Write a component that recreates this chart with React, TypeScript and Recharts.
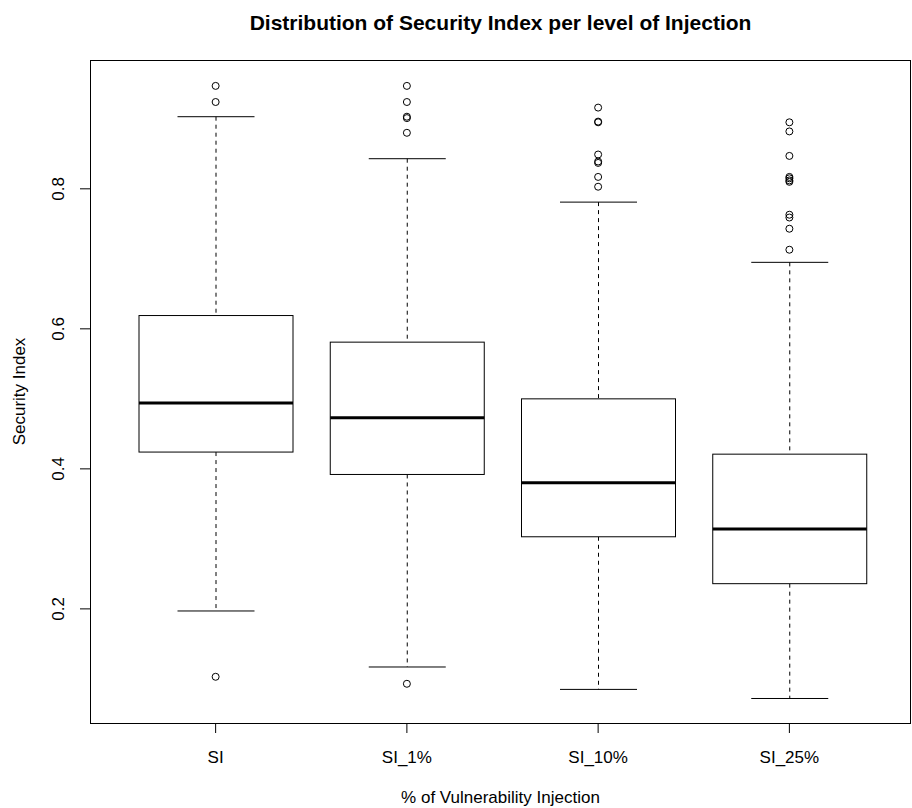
import React from 'react';
import { ComposedChart, Bar, Line, XAxis, YAxis, Label } from 'recharts';

const categories = ['SI', 'SI_1%', 'SI_10%', 'SI_25%'];
const whiskerLow = [0.197, 0.117, 0.085, 0.072];
const q1 = [0.424, 0.392, 0.303, 0.236];
const median = [0.494, 0.473, 0.38, 0.314];
const q3 = [0.619, 0.581, 0.5, 0.421];
const whiskerHigh = [0.903, 0.843, 0.781, 0.695];
const outliers = [
  [0.947, 0.924, 0.103],
  [0.947, 0.924, 0.903, 0.901, 0.88, 0.093],
  [0.916, 0.896, 0.895, 0.849, 0.839, 0.837, 0.817, 0.803],
  [0.895, 0.882, 0.847, 0.817, 0.815, 0.812, 0.81, 0.763, 0.759, 0.743, 0.713],
];
const yTicks = [0.2, 0.4, 0.6, 0.8];
const yDomain = [0.037, 0.984];

const title = 'Distribution of Security Index per level of Injection';
const xTitle = '% of Vulnerability Injection';
const yTitle = 'Security Index';

const maxOut = Math.max(...outliers.map((o) => o.length));

const data = categories.map((name, i) => {
  const row: any = {
    name,
    lo: whiskerLow[i],
    q1: q1[i],
    med: median[i],
    q3: q3[i],
    hi: whiskerHigh[i],
  };
  for (let k = 0; k < maxOut; k++) {
    row[`o${k}`] = outliers[i][k] !== undefined ? outliers[i][k] : null;
  }
  return row;
});

const FONT = '"Liberation Sans", Arial, sans-serif';

const BoxShape = (props: any) => {
  const { x, y, width, height, payload } = props;
  if (x == null || y == null || !payload) return null;
  const { lo, hi } = payload;
  const py = (v: number) => y + ((hi - v) / (hi - lo)) * height;
  const cx = x + width / 2;
  const sHalf = width / 4;
  const yHi = py(hi);
  const yLo = py(lo);
  const yQ3 = py(payload.q3);
  const yQ1 = py(payload.q1);
  const yMed = py(payload.med);
  return (
    <g>
      <line x1={cx} x2={cx} y1={yHi} y2={yQ3} stroke="#000" strokeWidth={1} strokeDasharray="4 4" />
      <line x1={cx} x2={cx} y1={yQ1} y2={yLo} stroke="#000" strokeWidth={1} strokeDasharray="4 4" />
      <line x1={cx - sHalf} x2={cx + sHalf} y1={yHi} y2={yHi} stroke="#000" strokeWidth={1} />
      <line x1={cx - sHalf} x2={cx + sHalf} y1={yLo} y2={yLo} stroke="#000" strokeWidth={1} />
      <rect x={x} y={yQ3} width={width} height={yQ1 - yQ3} fill="#fff" stroke="#000" strokeWidth={1} />
      <line x1={x} x2={x + width} y1={yMed} y2={yMed} stroke="#000" strokeWidth={3} />
    </g>
  );
};

const YTick = (props: any) => {
  const { x, y, payload } = props;
  const bx = x - 16;
  return (
    <text
      x={bx}
      y={y}
      transform={`rotate(-90, ${bx}, ${y})`}
      textAnchor="middle"
      fontSize={17}
      fontFamily={FONT}
      fill="#000"
    >
      {payload.value}
    </text>
  );
};

export default function App() {
  return (
    <div style={{ position: 'absolute', left: 0, top: 0, width: 912, height: 808, background: '#fff' }}>
      <ComposedChart
        width={912}
        height={808}
        data={data}
        margin={{ top: 60, right: 1, left: 0, bottom: 0 }}
      >
        <XAxis
          dataKey="name"
          type="category"
          padding={{ left: 30, right: 26 }}
          height={85}
          tickSize={10}
          tickMargin={18}
          tick={{ fontSize: 17, fontFamily: FONT, fill: '#000' }}
          tickLine={{ stroke: '#000' }}
          axisLine={false}
        >
          <Label
            content={(p: any) => {
              const vb = p.viewBox || {};
              const cx = vb.x + vb.width / 2;
              return (
                <g>
                  <text x={cx} y={vb.y + 80} textAnchor="middle" fontSize={17} fontFamily={FONT} fill="#000">
                    {xTitle}
                  </text>
                  <text x={cx} y={30} textAnchor="middle" fontSize={21} fontWeight="bold" fontFamily={FONT} fill="#000">
                    {title}
                  </text>
                </g>
              );
            }}
          />
        </XAxis>
        <YAxis
          type="number"
          domain={yDomain}
          allowDataOverflow
          ticks={yTicks}
          width={90}
          tickSize={10}
          tickMargin={0}
          tick={<YTick />}
          tickLine={{ stroke: '#000' }}
          axisLine={false}
        >
          <Label
            content={(p: any) => {
              const vb = p.viewBox || {};
              const tx = vb.x + 25;
              const ty = vb.y + vb.height / 2;
              return (
                <text x={tx} y={ty} transform={`rotate(-90, ${tx}, ${ty})`} textAnchor="middle" fontSize={17} fontFamily={FONT} fill="#000">
                  {yTitle}
                </text>
              );
            }}
          />
        </YAxis>
        <Bar
          dataKey={(d: any) => [d.lo, d.hi]}
          barSize={154}
          shape={<BoxShape />}
          isAnimationActive={false}
          legendType="none"
        />
        {Array.from({ length: maxOut }, (_, k) => (
          <Line
            key={k}
            dataKey={`o${k}`}
            stroke="none"
            isAnimationActive={false}
            connectNulls={false}
            dot={{ r: 3.5, stroke: '#000', strokeWidth: 1, fill: 'none' }}
            activeDot={false}
            legendType="none"
          />
        ))}
      </ComposedChart>
      <div
        style={{
          position: 'absolute',
          left: 90,
          top: 60,
          width: 821,
          height: 664,
          border: '1px solid #000',
          boxSizing: 'border-box',
          pointerEvents: 'none',
        }}
      />
    </div>
  );
}
